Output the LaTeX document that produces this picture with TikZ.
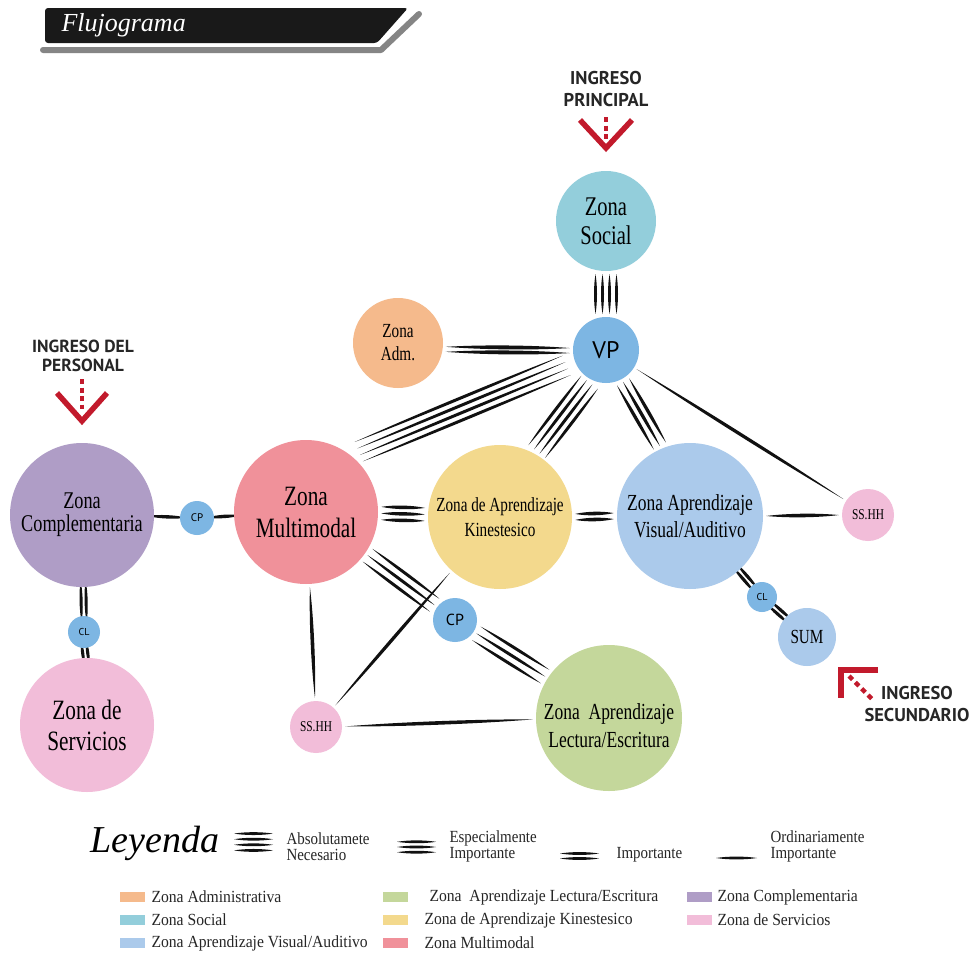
\documentclass[tikz,border=0pt]{standalone}
\usepackage{fontspec}
\setmainfont{Liberation Serif}[FakeStretch=0.76]
\newfontfamily\legfont{Liberation Serif}[FakeStretch=0.88]
\newfontfamily\swfont{Liberation Serif}[FakeStretch=0.92]
\newfontfamily\plainserif{Liberation Serif}
\newfontfamily\ptsans{PT Sans}
\usetikzlibrary{calc}
\pgfdeclarelayer{paper}
\pgfdeclarelayer{background}
\pgfsetlayers{paper,background,main}
\newcommand\setfs[2]{\fontsize{#1}{#2}\selectfont}
\definecolor{cSocial}{HTML}{93CEDB}
\definecolor{cBlue}{HTML}{7DB6E3}
\definecolor{cAdm}{HTML}{F5BA8C}
\definecolor{cMulti}{HTML}{F0919A}
\definecolor{cKin}{HTML}{F3D98D}
\definecolor{cVis}{HTML}{ABCAEB}
\definecolor{cPink}{HTML}{F2BDD9}
\definecolor{cComp}{HTML}{AF9DC6}
\definecolor{cLec}{HTML}{C4D79B}
\definecolor{cRed}{HTML}{C21A2C}
\definecolor{cInk}{HTML}{111111}
\def\brgap{3pt}
% n tapered parallel strokes between two points
\newcommand\strokes[5]{%
  \foreach \k in {1,...,#3}{%
    \pgfmathsetmacro\off{(\k-(#3+1)/2)*#4}%
    \coordinate (sA) at ($(#1)!\brgap!(#2)!\off pt!90:(#2)$);
    \coordinate (sB) at ($(#2)!\brgap!(#1)!\off pt!-90:(#1)$);
    \fill[ink] (sA) .. controls ($(sA)!0.3!(sB)!#5pt!90:(sB)$) and ($(sB)!0.3!(sA)!#5pt!-90:(sA)$) .. (sB)
      .. controls ($(sB)!0.3!(sA)!#5pt!90:(sA)$) and ($(sA)!0.3!(sB)!#5pt!-90:(sB)$) .. (sA) -- cycle;
  }}
% centre-to-centre link between two circle nodes
\newcommand\link[5]{%
  \path let \p1=(#1.center), \p2=(#2.center), \n1={atan2(\y2-\y1,\x2-\x1)}, \n2={\n1+180}
    in coordinate (lkA) at (#1.\n1) coordinate (lkB) at (#2.\n2);
  \strokes{lkA}{lkB}{#3}{#4}{#5}}
% link between given border angles
\newcommand\linkat[7]{\strokes{#1.#2}{#3.#4}{#5}{#6}{#7}}
\tikzset{
  zone/.style={circle, fill=#1, inner sep=0pt, align=center, text=black},
  ink/.style={fill=cInk},
  ingtext/.style={align=center, font=\ptsans\bfseries\setfs{18.5}{22}, text=black!85},
  chev/.style={draw=cRed, line width=5.5pt, line join=miter, line cap=butt},
  chevdots/.style={draw=cRed, line width=4.5pt, dash pattern=on 5pt off 3.5pt},
  legtext/.style={font=\legfont\setfs{17}{16}, align=left, anchor=west, text=black!85},
  swtext/.style={font=\swfont\setfs{17}{16}, anchor=west, text=black!85},
  swatch/.style={minimum width=25pt, minimum height=10pt, inner sep=0pt, fill=#1},
}
\begin{document}
\begin{tikzpicture}[x=1pt,y=-1pt]
\useasboundingbox (0,0) rectangle (978,953);
\begin{pgfonlayer}{paper}
\fill[white] (0,0) rectangle (978,953);
\end{pgfonlayer}
% ---- title banner
\draw[black!48, line width=6pt, line cap=round, line join=round] (43,50) -- (381,50) -- (419,14);
\fill[black!90, rounded corners=3pt] (45,8) -- (408,8) -- (377,43) -- (45,43) -- cycle;
\node[anchor=west, text=white, font=\plainserif\itshape\setfs{26}{26}] (title) at (58,25) {Flujograma};
% ---- zones
\node[zone=cSocial, minimum size=100pt, font=\setfs{27}{29}] (social) at (606,221) {Zona\\Social};
\node[zone=cBlue, minimum size=66pt, font=\ptsans\setfs{24}{24}] (vp) at (606,350) {VP};
\node[zone=cAdm, minimum size=90pt, font=\setfs{20}{23}] (adm) at (398,343) {Zona\\Adm.};
\node[zone=cMulti, minimum size=144pt, font=\setfs{28}{32}] (multi) at (306,512) {Zona\\Multimodal};
\node[zone=cKin, minimum size=144pt, font=\setfs{20}{25}] (kin) at (500,517) {Zona de Aprendizaje\\Kinestesico};
\node[zone=cVis, minimum size=146pt, font=\setfs{23}{27}] (vis) at (690,516) {Zona Aprendizaje\\Visual/Auditivo};
\node[zone=cPink, minimum size=52pt, font=\setfs{15}{15}] (ssr) at (868,515) {SS.HH};
\node[zone=cBlue, minimum size=30pt, font=\ptsans\setfs{10}{10}] (clr) at (762,597) {CL};
\node[zone=cVis, minimum size=58pt, font=\setfs{20}{20}] (sum) at (807,637) {SUM};
\node[zone=cComp, minimum size=144pt, font=\setfs{24}{23}] (comp) at (82,515) {Zona\\Complementaria};
\node[zone=cBlue, minimum size=34pt, font=\ptsans\setfs{11}{11}] (cpl) at (197,518) {CP};
\node[zone=cBlue, minimum size=32pt, font=\ptsans\setfs{10}{10}] (cll) at (84,632) {CL};
\node[zone=cPink, minimum size=134pt, font=\setfs{28}{31}] (serv) at (87,725) {Zona de\\Servicios};
\node[zone=cBlue, minimum size=44pt, font=\ptsans\setfs{16}{16}] (cpm) at (455,620) {CP};
\node[zone=cPink, minimum size=52pt, font=\setfs{15}{15}] (ssb) at (316,727) {SS.HH};
\node[zone=cLec, minimum size=146pt] (lec) at (609,718) {};
\node[align=center, font=\setfs{23}{28}] (lect) at (609,726) {Zona\ \ Aprendizaje\\Lectura/Escritura};
% ---- connectors (under the circles)
\begin{pgfonlayer}{background}
\link{social}{vp}{4}{7}{2}
\linkat{adm}{-8}{vp}{181}{2}{5}{2.6}
{\def\brgap{9pt}\linkat{multi}{52}{vp}{201}{4}{7}{2}}
\linkat{vp}{244}{kin}{61}{4}{7}{2}
\linkat{vp}{298}{vis}{113}{3}{7}{2.2}
\link{vp}{ssr}{1}{0}{2.2}
\link{multi}{kin}{3}{6.5}{2.4}
\link{kin}{vis}{2}{6}{2.4}
\link{vis}{ssr}{1}{0}{2.4}
\link{multi}{cpm}{3}{8}{2}
\link{cpm}{lec}{3}{8}{2}
\link{multi}{ssb}{1}{0}{2.4}
\link{ssb}{kin}{1}{0}{2.2}
\link{ssb}{lec}{1}{0}{2.4}
\begingroup
\def\brgap{-7pt}
\link{vis}{clr}{2}{5}{2.1}
\link{clr}{sum}{2}{5}{2.1}
\link{comp}{cpl}{1}{0}{2.3}
\link{cpl}{multi}{1}{0}{2.3}
\link{comp}{cll}{2}{5}{2.1}
\link{cll}{serv}{2}{5}{2.1}
\endgroup
\end{pgfonlayer}
% ---- entrances
\node[ingtext] (ingp) at (606,89) {INGRESO\\PRINCIPAL};
\draw[chev] (580,120) -- (606,148) -- (632,120);
\draw[chevdots] (606,117) -- (606,141);
\node[ingtext, font=\ptsans\bfseries\setfs{17.5}{19}] (ingper) at (83,356) {INGRESO DEL\\PERSONAL};
\draw[chev] (57,393) -- (82,421) -- (107,393);
\draw[chevdots] (82,379) -- (82,409);
\node[ingtext] (ings) at (917,704) {INGRESO\\SECUNDARIO};
\draw[chev, line width=6pt] (878,670) -- (841,670) -- (841,698);
\draw[chevdots, dash pattern=on 5pt off 4pt] (849,676) -- (874,701);
% ---- legend
\node[font=\plainserif\itshape\setfs{38}{38}] (ley) at (155,843) {Leyenda};
\begin{scope}
\def\brgap{0pt}
\coordinate (l4a) at (234,842); \coordinate (l4b) at (273,842);
\strokes{l4a}{l4b}{4}{5.6}{1.9}
\coordinate (l3a) at (397,847); \coordinate (l3b) at (436,847);
\strokes{l3a}{l3b}{3}{5.2}{1.9}
\coordinate (l2a) at (560,856); \coordinate (l2b) at (599,856);
\strokes{l2a}{l2b}{2}{5}{1.9}
\coordinate (l1a) at (716,858); \coordinate (l1b) at (757,858);
\strokes{l1a}{l1b}{1}{0}{1.9}
\end{scope}
\node[legtext] (lt4) at (283,847) {Absolutamete\\Necesario};
\node[legtext] (lt3) at (446,846) {Especialmente\\Importante};
\node[legtext] (lt2) at (613,855) {Importante};
\node[legtext] (lt1) at (767,846) {Ordinariamente\\Importante};
% colour legend
\node[swatch=cAdm] (s1) at (132,897) {};
\node[swtext] (t1) at (148,897) {Zona Administrativa};
\node[swatch=cSocial] (s2) at (132,920) {};
\node[swtext] (t2) at (148,920) {Zona Social};
\node[swatch=cVis] (s3) at (132,943) {};
\node[swtext] (t3) at (148,943) {Zona Aprendizaje Visual/Auditivo};
\node[swatch=cLec] (s4) at (395,897) {};
\node[swtext] (t4) at (426,897) {Zona\ \ Aprendizaje Lectura/Escritura};
\node[swatch=cKin] (s5) at (395,920) {};
\node[swtext] (t5) at (421,920) {Zona de Aprendizaje Kinestesico};
\node[swatch=cMulti] (s6) at (395,943) {};
\node[swtext] (t6) at (421,943) {Zona Multimodal};
\node[swatch=cComp] (s7) at (699,897) {};
\node[swtext] (t7) at (714,897) {Zona Complementaria};
\node[swatch=cPink] (s8) at (699,920) {};
\node[swtext] (t8) at (714,920) {Zona de Servicios};
\end{tikzpicture}
\end{document}
